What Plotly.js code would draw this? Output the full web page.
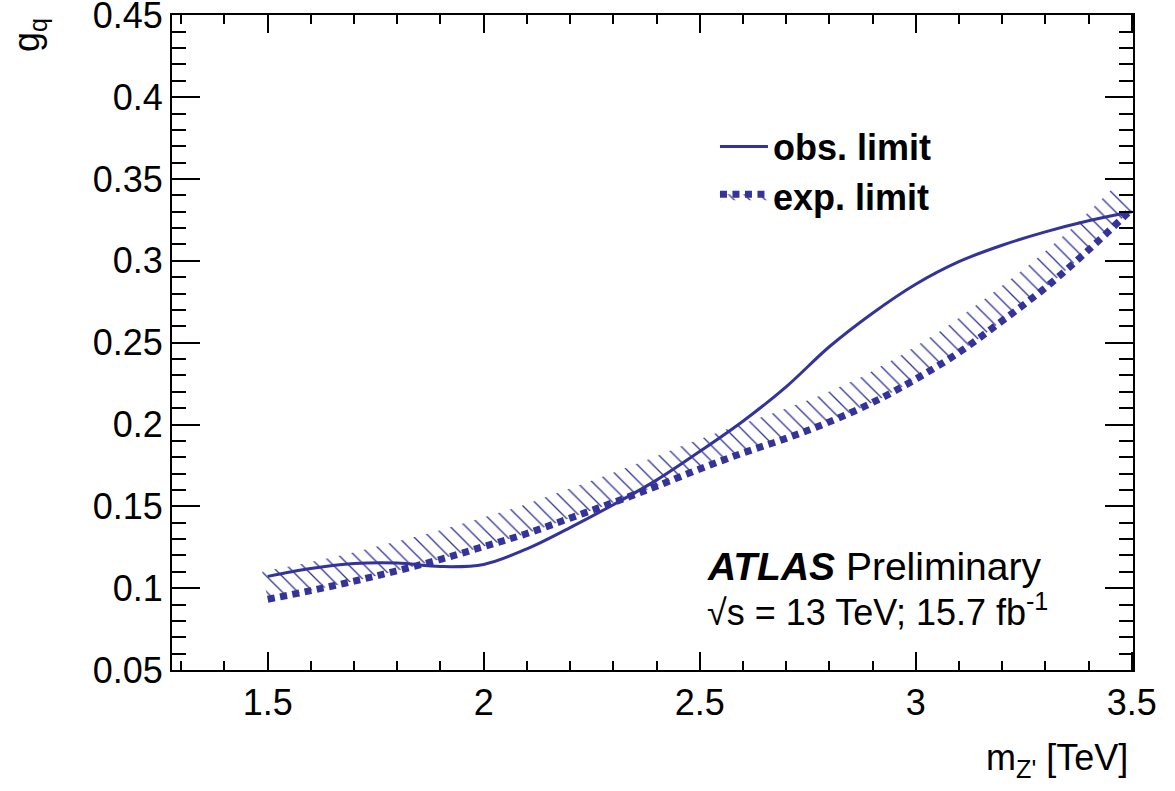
<!DOCTYPE html>
<html>
<head>
<meta charset="utf-8">
<script src="https://cdn.plot.ly/plotly-3.0.1.min.js"></script>
<style>html,body{margin:0;padding:0;background:#fff;}#chart{width:1175px;height:791px;}</style>
</head>
<body>
<div id="chart"></div>
<script>
// Z' mass points [TeV]
const massX = [1.5,1.6,1.7,1.8,1.9,2.0,2.1,2.2,2.3,2.4,2.5,2.6,2.7,2.8,2.9,3.0,3.1,3.2,3.3,3.4,3.5];
// observed limit on g_q
const obsLimit = [0.1072,0.1120,0.1150,0.1153,0.1132,0.1145,0.1240,0.1370,0.1510,0.1660,0.1835,0.2020,0.2230,0.2475,0.2680,0.2857,0.2995,0.3095,0.3177,0.3245,0.3300];
// expected limit on g_q
const expLimit = [0.0932,0.0985,0.1043,0.1107,0.1176,0.1254,0.1334,0.1428,0.1523,0.1623,0.1728,0.1826,0.1915,0.2016,0.2134,0.2277,0.2440,0.2633,0.2835,0.3066,0.3315];
// upper edge of the hatched exclusion band
const hatchX = [1.487,1.587,1.686,1.784,1.883,1.981,2.080,2.178,2.278,2.376,2.476,2.578,2.678,2.775,2.871,2.967,3.064,3.161,3.259,3.356,3.454];
const hatchY = [0.1100,0.1152,0.1210,0.1274,0.1341,0.1418,0.1496,0.1589,0.1684,0.1782,0.1887,0.1987,0.2076,0.2173,0.2286,0.2424,0.2582,0.2770,0.2967,0.3185,0.3437];
// axis tick labels
const yTickVals = [0.05,0.1,0.15,0.2,0.25,0.3,0.35,0.4,0.45];
const yTickText = ['0.05','0.1','0.15','0.2','0.25','0.3','0.35','0.4','0.45'];

const BLUE = '#333399';
const FONT = 'Liberation Sans, Arial, Helvetica, sans-serif';

const traces = [
  {x: hatchX, y: hatchY, type: 'scatter', mode: 'lines', line: {width: 0, color: BLUE},
   showlegend: false, hoverinfo: 'skip'},
  {x: massX, y: expLimit, type: 'scatter', mode: 'lines', name: '<b>exp. limit</b>',
   fill: 'tonexty', fillcolor: 'rgba(0,0,0,0)',
   fillpattern: {shape: '\\', fgcolor: BLUE, bgcolor: 'rgba(0,0,0,0)', size: 11, solidity: 0.12},
   line: {color: BLUE, width: 7, dash: '7px,5.5px', shape: 'spline'}},
  {x: massX, y: obsLimit, type: 'scatter', mode: 'lines', name: '<b>obs. limit</b>',
   line: {color: BLUE, width: 3, shape: 'spline'}}
];

const axisCommon = {
  showgrid: false, zeroline: false, showline: true, linecolor: '#000', linewidth: 2,
  mirror: 'ticks', ticks: 'inside', tickcolor: '#000', tickwidth: 2,
  tickfont: {family: FONT, size: 36, color: '#000'}
};

const layout = {
  width: 1175, height: 791,
  margin: {l: 172, r: 42, t: 15, b: 121},
  paper_bgcolor: '#fff', plot_bgcolor: '#fff',
  font: {family: FONT, color: '#000'},
  xaxis: Object.assign({}, axisCommon, {
    range: [1.2785, 3.503], tick0: 1.5, dtick: 0.5, ticklen: 18,
    minor: {dtick: 0.1, tick0: 1.5, ticklen: 9, ticks: 'inside', tickcolor: '#000', tickwidth: 2}
  }),
  yaxis: Object.assign({}, axisCommon, {
    range: [0.05, 0.4502], tickmode: 'array', tickvals: yTickVals, ticktext: yTickText, ticklen: 28,
    ticklabeloverflow: 'allow',
    minor: {dtick: 0.01, tick0: 0.05, ticklen: 14, ticks: 'inside', tickcolor: '#000', tickwidth: 2}
  }),
  legend: {x: 0.565, y: 0.845, xanchor: 'left', yanchor: 'top', bgcolor: 'rgba(0,0,0,0)',
    traceorder: 'reversed',
    font: {family: FONT, size: 36, color: '#000'}, itemwidth: 48, tracegroupgap: 0},
  showlegend: true,
  annotations: [
    {xref: 'paper', yref: 'paper', x: 0.555, y: 0.158, xanchor: 'left', yanchor: 'middle', showarrow: false,
     text: '<b><i>ATLAS</i></b> Preliminary', font: {family: FONT, size: 39, color: '#000'}},
    {xref: 'paper', yref: 'paper', x: 0.555, y: 0.092, xanchor: 'left', yanchor: 'middle', showarrow: false,
     text: '\u221As = 13 TeV; 15.7 fb<sup>-1</sup>', font: {family: FONT, size: 36, color: '#000'}},
    {xref: 'paper', yref: 'paper', x: 0.997, y: -0.137, xanchor: 'right', yanchor: 'middle', showarrow: false,
     text: "m<sub>Z'</sub> [TeV]", font: {family: FONT, size: 36, color: '#000'}},
    {xref: 'paper', yref: 'paper', x: -0.148, y: 0.998, xanchor: 'center', yanchor: 'top', showarrow: false,
     textangle: -90, text: 'g<sub>q</sub>', font: {family: FONT, size: 36, color: '#000'}}
  ]
};

Plotly.newPlot('chart', traces, layout, {displayModeBar: false, staticPlot: true});
</script>
</body>
</html>
